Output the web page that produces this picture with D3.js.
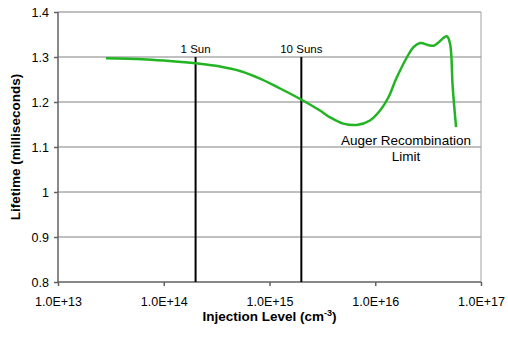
<!DOCTYPE html>
<html>
<head>
<meta charset="utf-8">
<script src="https://cdn.jsdelivr.net/npm/d3@7"></script>
<style>
  body { margin: 0; background: #fff; }
  svg { display: block; font-family: "Liberation Sans", Arial, sans-serif; }
</style>
</head>
<body>
<div id="chart"></div>
<script>
// injection level (cm^-3) and lifetime (ms)
const injection = [2.84e13, 6.3e13, 1.0e14, 2.2e14, 3.4e14, 5.26e14, 8.13e14, 1.26e15,
    2.01e15, 3.0e15, 3.73e15, 4.99e15, 6.68e15, 8.91e15, 1.11e16, 1.33e16, 1.58e16,
    2.0e16, 2.3e16, 2.65e16, 3.54e16, 4.74e16, 5.09e16, 5.4e16, 5.81e16];
const lifetime = [1.297, 1.295, 1.292, 1.285, 1.279, 1.269, 1.252, 1.230,
    1.205, 1.181, 1.166, 1.152, 1.149, 1.159, 1.181, 1.21, 1.252,
    1.3, 1.322, 1.331, 1.325, 1.346, 1.33, 1.233, 1.144];

const xTicks = [1e13, 1e14, 1e15, 1e16, 1e17];
const xTickLabels = ["1.0E+13", "1.0E+14", "1.0E+15", "1.0E+16", "1.0E+17"];
const yTicks = [0.8, 0.9, 1, 1.1, 1.2, 1.3, 1.4];

const markers = [2e14, 2e15];
const markerLabels = ["1 Sun", "10 Suns"];
const markerTop = 1.3;

const width = 508, height = 339;
const margin = { top: 12, right: 27, bottom: 57, left: 58 };
const w = width - margin.left - margin.right;
const h = height - margin.top - margin.bottom;

const svg = d3.select("#chart").append("svg")
    .attr("width", width)
    .attr("height", height);

const g = svg.append("g")
    .attr("transform", `translate(${margin.left},${margin.top})`);

const x = d3.scaleLog().domain([1e13, 1e17]).range([0, w]);
const y = d3.scaleLinear().domain([0.8, 1.4]).range([h, 0]);

// grid
g.append("g")
    .selectAll("line")
    .data(yTicks.slice(1))
    .enter()
    .append("line")
    .attr("x1", 0)
    .attr("x2", w)
    .attr("y1", d => y(d))
    .attr("y2", d => y(d))
    .attr("stroke", "#808080")
    .attr("stroke-width", 1);

// right border
g.append("line")
    .attr("x1", w).attr("x2", w)
    .attr("y1", 0).attr("y2", h)
    .attr("stroke", "#a0a0a0");

// axes
const yAxis = g.append("g")
    .call(d3.axisLeft(y).tickValues(yTicks).tickSize(4).tickPadding(5)
        .tickFormat(d => d3.format("")(d)));
const xAxis = g.append("g")
    .attr("transform", `translate(0,${h})`)
    .call(d3.axisBottom(x).tickValues(xTicks).tickSize(4).tickPadding(11)
        .tickFormat((d, i) => xTickLabels[i]));

[xAxis, yAxis].forEach(ax => {
    ax.selectAll(".domain, .tick line").attr("stroke", "#606060").attr("stroke-width", 1.5);
    ax.selectAll("text").style("font-size", "12.5px").attr("fill", "#000");
});
xAxis.select(".domain").attr("d", `M0,0H${w}`);
yAxis.select(".domain").attr("d", `M0,0V${h}`);

// sun markers
g.selectAll(".marker")
    .data(markers)
    .enter()
    .append("line")
    .attr("class", "marker")
    .attr("x1", d => x(d)).attr("x2", d => x(d))
    .attr("y1", y(markerTop)).attr("y2", h)
    .attr("stroke", "#000")
    .attr("stroke-width", 2);

g.selectAll(".marker-label")
    .data(markers)
    .enter()
    .append("text")
    .attr("x", d => x(d))
    .attr("y", y(markerTop) - 4.5)
    .attr("text-anchor", "middle")
    .style("font-size", "11.5px")
    .text((d, i) => markerLabels[i]);

// curve
const pts = injection.map((v, i) => [v, lifetime[i]]);
g.append("path")
    .datum(pts)
    .attr("fill", "none")
    .attr("stroke", "#22b422")
    .attr("stroke-width", 2.5)
    .attr("d", d3.line()
        .x(d => x(d[0]))
        .y(d => y(d[1]))
        .curve(d3.curveCatmullRom.alpha(0.5)));

// annotation
const note = g.append("text")
    .attr("text-anchor", "middle")
    .style("font-size", "13.5px");
note.append("tspan").attr("x", 348).attr("y", 132.5).text("Auger Recombination");
note.append("tspan").attr("x", 348).attr("y", 148.5).text("Limit");

// axis titles
const xt = svg.append("text")
    .attr("x", margin.left + w / 2)
    .attr("y", 321)
    .attr("text-anchor", "middle")
    .style("font-size", "13.5px")
    .style("font-weight", "bold");
xt.append("tspan").text("Injection Level (cm");
xt.append("tspan").attr("dy", -5).style("font-size", "9px").text("-3");
xt.append("tspan").attr("dy", 5).text(")");

svg.append("text")
    .attr("transform", `translate(20,${margin.top + h / 2}) rotate(-90)`)
    .attr("text-anchor", "middle")
    .style("font-size", "13.5px")
    .style("font-weight", "bold")
    .text("Lifetime (milliseconds)");
</script>
</body>
</html>
